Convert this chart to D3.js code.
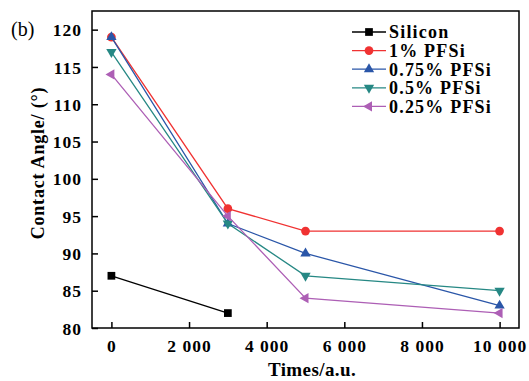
<!DOCTYPE html>
<html>
<head>
<meta charset="utf-8">
<script src="https://cdn.jsdelivr.net/npm/d3@7"></script>
<style>
  body { margin: 0; background: #fff; }
  svg { display: block; font-family: "Liberation Serif", "DejaVu Serif", serif; }
</style>
</head>
<body>
<svg id="chart" width="529" height="381"></svg>
<script>
const times = [0, 3000, 5000, 10000]
const seriesNames = ["Silicon", "1% PFSi", "0.75% PFSi", "0.5% PFSi", "0.25% PFSi"]
const siliconValues = [87, 82]
const pfsi1Values = [119, 96, 93, 93]
const pfsi075Values = [119, 94, 90, 83]
const pfsi05Values = [117, 94, 87, 85]
const pfsi025Values = [114, 95, 84, 82]
const xTicks = [0, 2000, 4000, 6000, 8000, 10000]
const yTicks = [80, 85, 90, 95, 100, 105, 110, 115, 120]

const colors = ["#000000", "#f03232", "#2a56a8", "#268884", "#ad5fb5"]
const symbols = ["square", "circle", "up", "down", "left"]
const sizes = [60, 60, 46, 46, 46]
const allValues = [siliconValues, pfsi1Values, pfsi075Values, pfsi05Values, pfsi025Values]

const margin = { left: 92, top: 11, right: 10, bottom: 53 }
const width = 529 - margin.left - margin.right
const height = 381 - margin.top - margin.bottom

const svg = d3.select("#chart")
const g = svg.append("g").attr("transform", "translate(" + margin.left + "," + margin.top + ")")

const x = d3.scaleLinear().domain([-500, 10500]).range([0, width])
const y = d3.scaleLinear().domain([80, 122.5]).range([height, 0])

const fmtX = d => d >= 1000 ? Math.floor(d / 1000) + " 000" : "" + d

// axes, ticks pointing inward
const xAxis = g.append("g").attr("transform", "translate(0," + height + ")")
    .call(d3.axisBottom(x).tickValues(xTicks).tickFormat(fmtX).tickSizeInner(-6).tickSizeOuter(0).tickPadding(12))
const yAxis = g.append("g")
    .call(d3.axisLeft(y).tickValues(yTicks).tickSizeInner(-6).tickSizeOuter(0).tickPadding(10))

for (const ax of [xAxis, yAxis]) {
    ax.attr("font-family", null).attr("font-size", null)
    ax.select(".domain").remove()
    ax.selectAll("line").attr("stroke", "#000").attr("stroke-width", 1.5)
    ax.selectAll("text")
        .attr("fill", "#000")
        .style("font-size", "17.5px")
        .style("font-weight", "bold")
        .style("letter-spacing", "1px")
}
yAxis.selectAll("text").attr("dy", "0.35em")

g.append("rect")
    .attr("width", width).attr("height", height)
    .attr("fill", "none").attr("stroke", "#000").attr("stroke-width", 1.5)

function marker(sym, size) {
    if (sym === "square") return d3.symbol(d3.symbolSquare, size)()
    if (sym === "circle") return d3.symbol(d3.symbolCircle, size)()
    return d3.symbol(d3.symbolTriangle, size)()
}
function rot(sym) {
    if (sym === "down") return " rotate(180)"
    if (sym === "left") return " rotate(-90)"
    return ""
}

const line = d3.line().x(d => x(d[0])).y(d => y(d[1]))

allValues.forEach((vals, i) => {
    const pts = vals.map((v, j) => [times[j], v])
    g.append("path")
        .attr("d", line(pts))
        .attr("fill", "none")
        .attr("stroke", colors[i])
        .attr("stroke-width", 1.3)
    g.selectAll(null).data(pts).enter().append("path")
        .attr("d", marker(symbols[i], sizes[i]))
        .attr("transform", d => "translate(" + x(d[0]) + "," + y(d[1]) + ")" + rot(symbols[i]))
        .attr("fill", colors[i])
})

// legend
const legend = svg.append("g").attr("transform", "translate(352,32)")
seriesNames.forEach((name, i) => {
    const row = legend.append("g").attr("transform", "translate(0," + (i * 18.6) + ")")
    row.append("line").attr("x1", 0).attr("x2", 34).attr("stroke", colors[i]).attr("stroke-width", 1.3)
    row.append("path")
        .attr("d", marker(symbols[i], sizes[i]))
        .attr("transform", "translate(17,0)" + rot(symbols[i]))
        .attr("fill", colors[i])
    row.append("text")
        .attr("x", 37).attr("dy", "0.35em")
        .style("font-size", "18px").style("font-weight", "bold")
        .style("letter-spacing", "1.2px")
        .text(name)
})

// axis titles
svg.append("text")
    .attr("transform", "translate(44,163) rotate(-90)")
    .attr("text-anchor", "middle")
    .style("font-size", "18px").style("font-weight", "bold")
    .style("letter-spacing", "0.8px")
    .text("Contact Angle/ (°)")
svg.append("text")
    .attr("x", 312).attr("y", 376)
    .attr("text-anchor", "middle")
    .style("font-size", "19px").style("font-weight", "bold")
    .style("letter-spacing", "0.4px")
    .text("Times/a.u.")

svg.append("text")
    .attr("x", 11).attr("y", 36)
    .style("font-size", "20px")
    .text("(b)")
</script>
</body>
</html>
